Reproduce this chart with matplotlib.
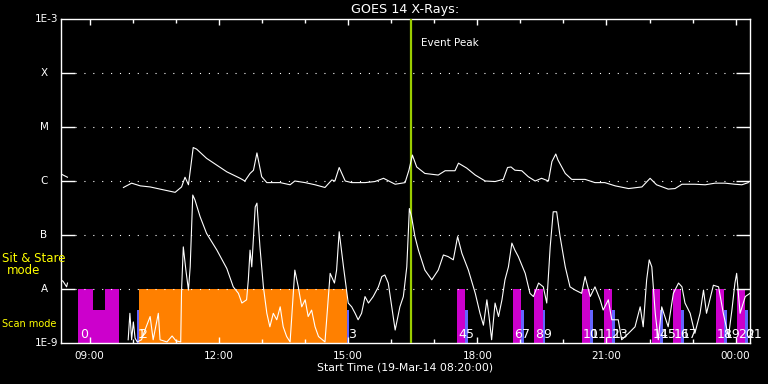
"""GOES 14 X-ray light curves with observing-mode bars, 19-Mar-14."""

import matplotlib

matplotlib.use("Agg")

import matplotlib.pyplot as plt
import matplotlib.transforms as mtransforms
import numpy as np
from matplotlib.ticker import FixedLocator, NullLocator

nan = np.nan

# hours after 08:20 UT, log10 flux (W/m^2); nan marks data gaps
long_t = [0.00, 0.05, 0.15, nan,
          1.45, 1.64, 1.84, 2.07, 2.30, 2.65, 2.80, 2.88, 2.96, 3.07, 3.15, 3.38,
          3.85, 4.16, 4.27, 4.39, 4.47, 4.55, 4.66, 4.78, 5.09, 5.32, 5.43, 5.67,
          5.90, 6.13, 6.29, 6.36, 6.46, 6.60, 6.75, 7.06, 7.29, 7.49, 7.76, 7.99,
          8.08, 8.16, 8.26, 8.45, 8.76, 8.92, 9.15, 9.23, 9.42, 9.62, 9.85, 10.08,
          10.27, 10.37, 10.45, 10.54, 10.70, 10.85, 11.01, 11.16, 11.32, 11.40,
          11.49, 11.54, 11.71, 11.86, 12.17, 12.40, 12.63, 12.87, 13.18, 13.49,
          13.68, 13.83, 14.10, 14.26, 14.42, 14.72, 14.96, 15.19, 15.42, 15.65,
          15.81, 15.96]
long_logf = [-5.87, -5.89, -5.93, nan,
             -6.12, -6.04, -6.09, -6.11, -6.15, -6.21, -6.11, -5.93, -6.07, -5.38,
             -5.41, -5.58, -5.83, -5.95, -6.00, -5.86, -5.80, -5.48, -5.92, -6.03,
             -6.03, -6.07, -6.00, -6.03, -6.07, -6.12, -5.98, -6.00, -5.75, -6.00,
             -6.03, -6.03, -6.01, -5.95, -6.06, -6.03, -5.80, -5.52, -5.74, -5.86,
             -5.89, -5.81, -5.81, -5.67, -5.76, -5.89, -6.00, -6.01, -5.97, -5.75,
             -5.74, -5.80, -5.81, -5.92, -6.00, -5.95, -6.00, -5.64, -5.50, -5.61,
             -5.86, -5.97, -5.97, -6.03, -6.03, -6.09, -6.14, -6.11, -5.95, -6.07,
             -6.15, -6.14, -6.06, -6.06, -6.07, -6.04, -6.04, -6.06, -6.07, -6.03]

short_t = [0.00, 0.05, 0.13, 0.15, nan,
           1.56, 1.60, 1.64, 1.68, 1.72, 1.77, 1.87, 1.95, 2.07, 2.14, 2.26, 2.30,
           2.46, 2.58, 2.67, 2.78, 2.80, 2.84, 2.90, 2.96, 3.00, 3.06, 3.11, 3.23,
           3.38, 3.62, 3.85, 4.00, 4.12, 4.20, 4.31, 4.35, 4.39, 4.43, 4.51, 4.55,
           4.62, 4.70, 4.78, 4.85, 4.93, 5.01, 5.09, 5.16, 5.24, 5.32, 5.43, 5.51,
           5.59, 5.67, 5.74, 5.82, 5.90, 5.98, 6.13, 6.25, 6.35, 6.40, 6.46, 6.56,
           6.67, 6.75, 6.83, 6.90, 6.98, 7.06, 7.14, 7.25, 7.37, 7.45, 7.52, 7.60,
           7.68, 7.76, 7.87, 7.95, 8.03, 8.09, 8.14, 8.22, 8.30, 8.45, 8.61, 8.76,
           8.88, 8.99, 9.11, 9.21, 9.31, 9.46, 9.62, 9.73, 9.81, 9.89, 9.94, 10.00,
           10.08, 10.16, 10.24, 10.31, 10.39, 10.47, 10.54, 10.62, 10.78, 10.89,
           10.97, 11.09, 11.20, 11.28, 11.36, 11.43, 11.51, 11.59, 11.71, 11.82,
           11.94, 12.09, 12.17, 12.29, 12.40, 12.52, 12.59, 12.71, 12.79, 12.94,
           13.02, 13.18, 13.33, 13.45, 13.52, 13.60, 13.66, 13.72, 13.80, 13.87,
           13.95, 14.10, 14.22, 14.34, 14.42, 14.49, 14.61, 14.72, 14.84, 14.92,
           14.99, 15.15, 15.27, 15.38, 15.50, 15.58, 15.65, 15.69, 15.77, 15.89,
           16.00]
short_logf = [-7.83, -7.86, -7.96, -7.89, nan,
              -8.94, -8.45, -8.94, -8.61, -8.91, -8.98, -8.94, -8.76, -8.51, -8.94,
              -8.45, -8.94, -8.98, -8.87, -8.96, -8.98, -8.02, -7.22, -7.65, -8.02,
              -7.59, -6.26, -6.35, -6.66, -6.97, -7.28, -7.62, -7.96, -8.08, -8.26,
              -8.20, -7.83, -7.28, -7.59, -6.48, -6.41, -7.22, -7.96, -8.45, -8.70,
              -8.45, -8.57, -8.33, -8.70, -8.88, -8.98, -7.65, -7.96, -8.33, -8.20,
              -8.51, -8.39, -8.70, -8.88, -8.98, -7.71, -7.89, -7.65, -6.94, -7.59,
              -8.26, -8.33, -8.45, -8.57, -8.45, -8.14, -8.26, -8.14, -7.96, -7.77,
              -7.74, -7.89, -8.33, -8.76, -8.33, -8.14, -7.59, -6.51, -6.66, -7.03,
              -7.28, -7.65, -7.83, -7.65, -7.37, -7.40, -7.46, -7.03, -7.34, -7.65,
              -8.08, -8.45, -8.67, -8.20, -8.51, -8.94, -8.26, -8.51, -8.20, -7.83,
              -7.59, -7.15, -7.28, -7.40, -7.71, -8.08, -8.14, -7.89, -7.96, -8.26,
              -7.22, -6.57, -6.57, -7.03, -7.59, -7.96, -8.02, -8.08, -7.77, -8.14,
              -7.96, -8.20, -8.39, -8.20, -8.57, -8.57, -8.94, -8.82, -8.70, -8.33,
              -8.70, -7.83, -7.46, -7.59, -8.45, -8.94, -8.33, -8.70, -8.08, -7.89,
              -7.96, -8.26, -8.45, -8.82, -8.45, -8.02, -8.45, -7.93, -7.96, -8.45,
              -8.88, -8.39, -7.89, -7.71, -8.45, -8.14, -8.08]

# observing-mode bars: start (hours after 08:20), end, top (log10 flux), kind
bar_start = [0.40, 0.74, 1.02, 1.77, 1.81, 6.63, 9.20, 9.38, 10.50, 10.68,
             10.99, 11.19, 12.10, 12.29, 12.61, 12.80, 13.73, 13.91, 14.21, 14.40,
             15.21, 15.40, 15.70, 15.89]
bar_end = [0.74, 1.02, 1.35, 1.81, 6.64, 6.69, 9.38, 9.45, 10.68, 10.75,
           11.19, 11.24, 12.29, 12.36, 12.80, 12.87, 13.91, 13.98, 14.40, 14.47,
           15.40, 15.47, 15.89, 15.96]
bar_top = [-8.0, -8.39, -8.0, -8.39, -8.0, -8.39, -8.0, -8.39, -8.0, -8.39,
           -8.0, -8.39, -8.0, -8.39, -8.0, -8.39, -8.0, -8.39, -8.0, -8.39,
           -8.0, -8.39, -8.0, -8.39]
bar_kind = ["sit", "sit", "sit", "scan", "raster", "scan", "sit", "scan", "sit",
            "scan", "sit", "scan", "sit", "scan", "sit", "scan", "sit", "scan",
            "sit", "scan", "sit", "scan", "sit", "scan"]
# event numbers and where they are written
event_num = list(range(22))
event_t = [0.45, 1.77, 1.81, 6.66, 9.22, 9.40, 10.52, 10.70, 11.01, 11.21,
           12.12, 12.31, 12.63, 12.82, 13.75, 13.93, 14.23, 14.42, 15.23, 15.42,
           15.72, 15.91]

flare_levels = [1e-8, 1e-7, 1e-6, 1e-5, 1e-4]
level_names = ["A", "B", "C", "M", "X"]
hour_ticks = [0.667, 3.667, 6.667, 9.667, 12.667, 15.667]
hour_labels = ["09:00", "12:00", "15:00", "18:00", "21:00", "00:00"]
minor_ticks = [0.667 + i for i in range(16)]
event_peak = 8.13

colors = {"sit": "#cc00cc", "scan": "#6464ff", "raster": "#ff8000"}

W, H = 768, 384
fig = plt.figure(figsize=(W / 100, H / 100), dpi=100, facecolor="black")
ax = fig.add_axes([61 / W, 41 / H, 689 / W, 324 / H], facecolor="black")
ax.set_yscale("log")
ax.set_xlim(0, 16)
ax.set_ylim(1e-9, 1e-3)

for s, e, top, kind in zip(bar_start, bar_end, bar_top, bar_kind):
    ax.bar(s, 10**top - 1e-9, width=e - s, bottom=1e-9, align="edge",
           color=colors[kind], linewidth=0, zorder=1)

for lev in flare_levels:
    ax.plot([0.33, 15.67], [lev, lev], color="white", lw=0.8,
            linestyle=(0, (1, 7)), zorder=2)

ax.axvline(event_peak, color="#9acd00", lw=1.6, zorder=3)
ax.text(event_peak + 0.24, 10**-3.44, "Event Peak", color="white", fontsize=7.5,
        va="center", ha="left", zorder=5)

ax.plot(long_t, 10 ** np.array(long_logf), color="white", lw=0.8, zorder=4)
ax.plot(short_t, 10 ** np.array(short_logf), color="white", lw=0.8, zorder=4)

for n, t in zip(event_num, event_t):
    ax.text(t, 10**-8.84, str(n), color="white", fontsize=9, ha="left",
            va="center", zorder=6)

for side in ax.spines.values():
    side.set_color("white")
    side.set_linewidth(1)

ax.yaxis.set_major_locator(FixedLocator(flare_levels))
ax.yaxis.set_minor_locator(NullLocator())
ax.tick_params(axis="y", which="major", direction="in", length=10, width=1,
               color="white", left=True, right=True, labelleft=False)
ax.xaxis.set_major_locator(FixedLocator(hour_ticks))
ax.xaxis.set_minor_locator(FixedLocator(minor_ticks))
ax.set_xticklabels(hour_labels)
ax.tick_params(axis="x", which="major", direction="in", length=4.5, width=1,
               color="white", top=True, labelcolor="white", labelsize=7.5, pad=6)
ax.tick_params(axis="x", which="minor", direction="in", length=3, width=1,
               color="white", top=True)

# y labels in pixel columns left of the frame
trans = mtransforms.blended_transform_factory(fig.transFigure, ax.transData)
ax.text(58 / W, 1e-3, "1E-3", color="white", fontsize=7.5, ha="right",
        va="center", transform=trans, clip_on=False)
ax.text(58 / W, 1e-9, "1E-9", color="white", fontsize=7.5, ha="right",
        va="center", transform=trans, clip_on=False)
for lev, name in zip(flare_levels, level_names):
    ax.text(44 / W, lev, name, color="white", fontsize=7.5, ha="center",
            va="center", transform=trans, clip_on=False)

fig.text(2 / W, 1 - 259 / H, "Sit & Stare", color="yellow", fontsize=8.5,
         ha="left", va="center")
fig.text(24 / W, 1 - 271 / H, "mode", color="yellow", fontsize=8.5,
         ha="center", va="center")
fig.text(2 / W, 1 - 324 / H, "Scan mode", color="yellow", fontsize=7,
         ha="left", va="center")

fig.text(405 / W, 1 - 9 / H, "GOES 14 X-Rays:", color="white", fontsize=9.2,
         ha="center", va="center")
fig.text(405 / W, 1 - 368 / H, "Start Time (19-Mar-14 08:20:00)", color="white",
         fontsize=7.8, ha="center", va="center")

fig.savefig("out.png", dpi=100, facecolor="black")
